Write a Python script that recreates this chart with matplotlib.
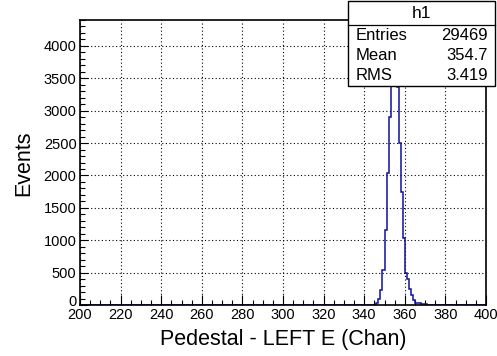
import numpy as np
import matplotlib
matplotlib.use("Agg")
import matplotlib.pyplot as plt
from matplotlib.patches import Rectangle
from matplotlib.ticker import MultipleLocator
from matplotlib.transforms import ScaledTranslation

plt.rcParams['font.family'] = ['Liberation Sans', 'DejaVu Sans']

# ---- data ----
x_min, x_max = 200, 400          # histogram range (Chan), 1 chan per bin
first_bin = 345                  # first non-empty bin
counts = [5, 30, 88, 232, 540, 1158, 2040, 2908, 3950, 4190, 4150, 3360,
          2497, 1750, 1030, 489, 397, 242, 154, 77, 36, 28, 25, 22, 18, 10, 6]
hist_name = "h1"
stat_labels = ["Entries", "Mean", "RMS"]
stat_values = ["29469", "354.7", "3.419"]
x_title = "Pedestal - LEFT E (Chan)"
y_title = "Events"

edges = np.arange(x_min, x_max + 1)
values = np.zeros(len(edges) - 1)
values[first_bin - x_min:first_bin - x_min + len(counts)] = counts

W, H = 497, 356
fig = plt.figure(figsize=(W / 100, H / 100), dpi=100)
L, R, T, B = 80, 486, 20, 305
ax = fig.add_axes([L / W, 1 - B / H, (R - L) / W, (B - T) / H])

ax.stairs(values, edges, color='#10109c', linewidth=1.1, baseline=None, zorder=2)

ax.set_xlim(x_min, x_max)
ax.set_ylim(0, 4400)

ax.xaxis.set_major_locator(MultipleLocator(20))
ax.xaxis.set_minor_locator(MultipleLocator(5))
ax.yaxis.set_major_locator(MultipleLocator(500))
ax.yaxis.set_minor_locator(MultipleLocator(100))

ax.tick_params(axis='both', which='both', direction='in', top=False, right=False,
               labelsize=10.5, colors='black')
ax.tick_params(axis='x', which='major', length=7.5, width=0.8, pad=2.5)
ax.tick_params(axis='x', which='minor', length=3.8, width=0.8)
ax.tick_params(axis='y', which='major', length=6, width=0.8, pad=2.5)
ax.tick_params(axis='y', which='minor', length=3.5, width=0.8)

ax.grid(True, which='major', color='black', linestyle=(0, (1, 2.2)), linewidth=0.8)
ax.set_axisbelow(True)
for s in ax.spines.values():
    s.set_linewidth(1.2)
    s.set_zorder(6)

ax.set_xlabel(x_title, fontsize=15.5)
ax.xaxis.set_label_coords(0.5, (B - 340) / (B - T))
ax.xaxis.label.set_verticalalignment('center')
ax.set_ylabel(y_title, fontsize=15.5)
ax.yaxis.set_label_coords((24 - L) / (R - L), (B - 163) / (B - T))
ax.yaxis.label.set_verticalalignment('center')

# raise the "0" label on the y axis (ROOT style)
fig.canvas.draw()
for tk in ax.yaxis.get_major_ticks():
    if tk.label1.get_text() in ("0", "−0"):
        tk.label1.set_verticalalignment('bottom')
        tk.label1.set_transform(tk.label1.get_transform() +
                                ScaledTranslation(0, -4.5 / 100, fig.dpi_scale_trans))

# ---- stats box ----
bx0, bx1, by0, by1 = 348, 495, 1, 86
def fx(px): return px / W
def fy(py): return 1 - py / H
fig.patches.append(Rectangle((fx(bx0), fy(by1)), fx(bx1) - fx(bx0), fy(by0) - fy(by1),
                             transform=fig.transFigure, facecolor='white',
                             edgecolor='black', linewidth=1.0, zorder=10))
fig.add_artist(plt.Line2D([fx(bx0), fx(bx1)], [fy(25), fy(25)],
                          transform=fig.transFigure, color='black', linewidth=0.9, zorder=11))
fig.text(fx((bx0 + bx1) / 2), fy(13), hist_name, ha='center', va='center',
         fontsize=12.5, zorder=12)
row_y = [35.5, 55.5, 75]
for lab, val, yy in zip(stat_labels, stat_values, row_y):
    fig.text(fx(356), fy(yy), lab, ha='left', va='center', fontsize=12, zorder=12)
    fig.text(fx(488), fy(yy), val, ha='right', va='center', fontsize=12, zorder=12)

fig.savefig("out.png", dpi=100)
